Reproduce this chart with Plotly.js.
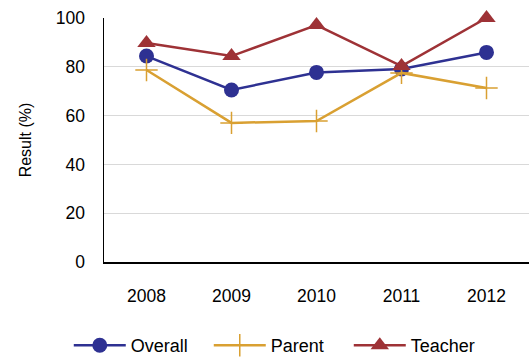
<!DOCTYPE html>
<html>
<head>
<meta charset="utf-8">
<script src="https://cdn.plot.ly/plotly-3.0.1.min.js"></script>
<style>html,body{margin:0;padding:0;background:#fff}#chart{width:529px;height:364px}</style>
</head>
<body>
<div id="chart"></div>
<script>
var years = ['2008', '2009', '2010', '2011', '2012'];
var overall = [84.4, 70.5, 77.7, 79.1, 85.9];
var parent = [78.7, 57.0, 57.8, 77.5, 71.3];
var teacher = [89.8, 84.4, 97.1, 80.3, 100];
var yTicks = [0, 20, 40, 60, 80, 100];

var traces = [
  {x: years, y: overall, name: 'Overall', type: 'scatter', mode: 'lines+markers', cliponaxis: false,
   line: {color: '#2E3192', width: 2.5}, marker: {symbol: 'circle', size: 15, color: '#2E3192'}},
  {x: years, y: parent, name: 'Parent', type: 'scatter', mode: 'lines+markers', cliponaxis: false,
   line: {color: '#D9A032', width: 2.5}, marker: {symbol: 'cross-thin-open', size: 16, color: '#D9A032', line: {width: 1.5, color: '#D9A032'}}},
  {x: years, y: teacher, name: 'Teacher', type: 'scatter', mode: 'lines+markers', cliponaxis: false,
   line: {color: '#9E3236', width: 2.5}, marker: {symbol: 'triangle-up', size: 16, color: '#9E3236'}}
];

var layout = {
  width: 529, height: 364,
  margin: {l: 104, r: 0, t: 18, b: 102},
  paper_bgcolor: '#fff', plot_bgcolor: '#fff',
  font: {family: 'Liberation Sans, Arial, sans-serif', size: 17.5, color: '#000'},
  showlegend: true,
  legend: {orientation: 'h', x: 0.13, xanchor: 'left', xref: 'container', yref: 'container', y: -0.016, yanchor: 'bottom',
           entrywidth: 73, itemwidth: 52, font: {size: 18}, traceorder: 'normal'},
  xaxis: {type: 'category', range: [-0.5, 4.5], showgrid: false, showline: true, linecolor: '#000', linewidth: 1.5,
          ticks: '', ticklabelstandoff: 17, zeroline: false, automargin: false},
  yaxis: {range: [0, 100], tickvals: yTicks, showgrid: true, gridcolor: '#d9d9d9', gridwidth: 1, automargin: false,
          showline: true, linecolor: '#000', linewidth: 1.5, ticks: '', ticklabelstandoff: 14, zeroline: false,
          title: {text: 'Result (%)', font: {size: 16}, standoff: 20}}
};
Plotly.newPlot('chart', traces, layout, {displayModeBar: false, staticPlot: true});
</script>
</body>
</html>
